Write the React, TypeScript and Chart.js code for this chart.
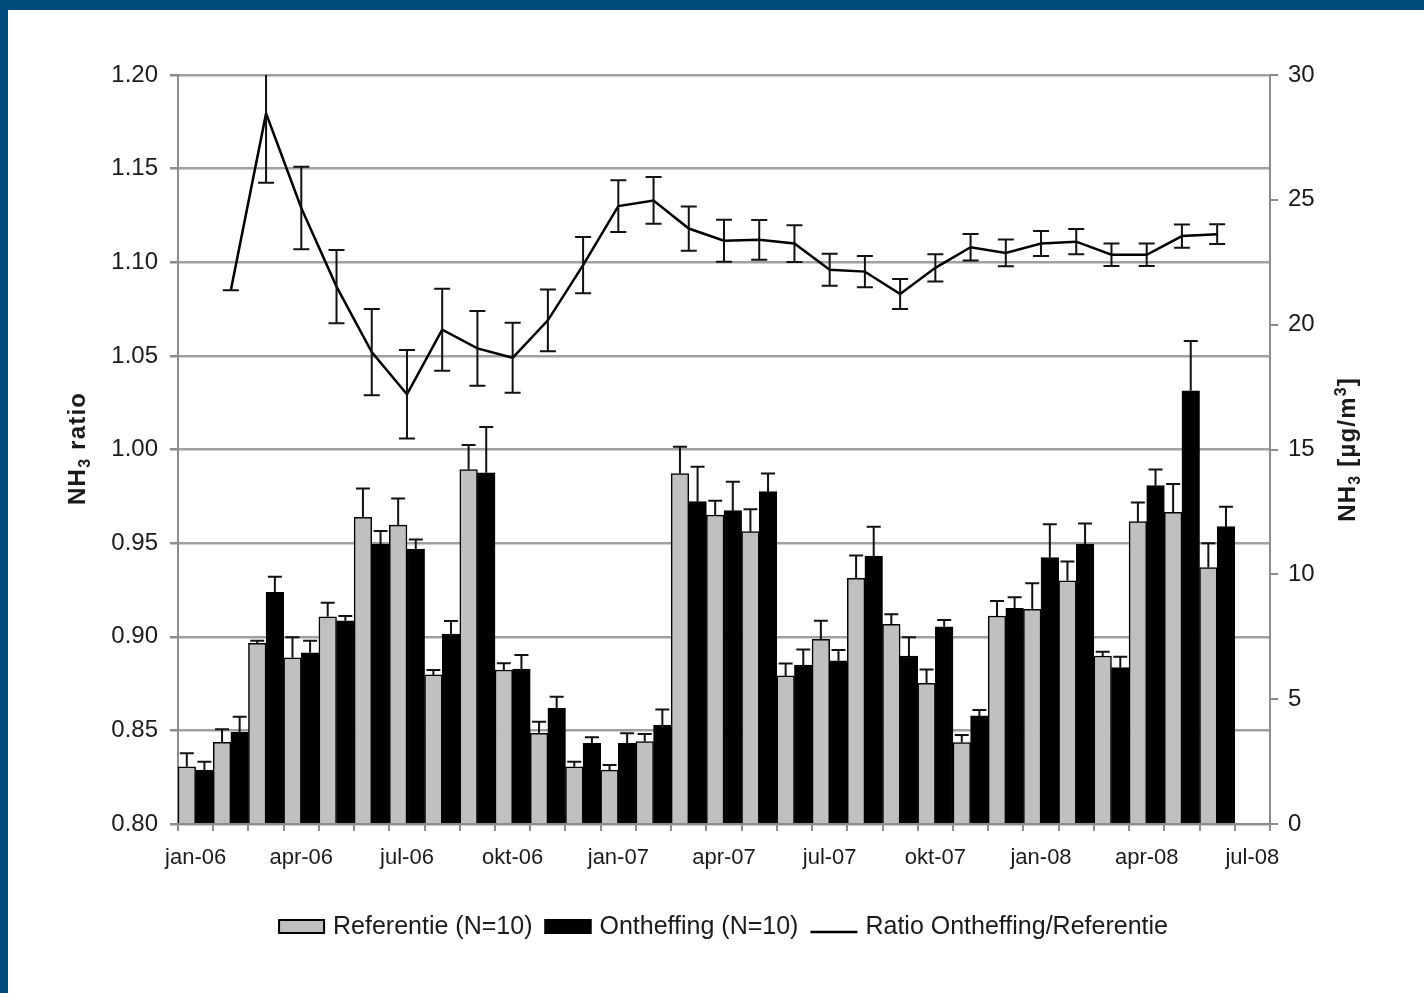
import React, { useEffect, useRef } from 'react';
import { Chart, registerables } from 'chart.js';

Chart.register(...registerables);

const FONT = "'Liberation Sans', Arial, Helvetica, sans-serif";

const months = [
  'jan-06', 'feb-06', 'mrt-06', 'apr-06', 'mei-06', 'jun-06', 'jul-06', 'aug-06', 'sep-06', 'okt-06', 'nov-06', 'dec-06',
  'jan-07', 'feb-07', 'mrt-07', 'apr-07', 'mei-07', 'jun-07', 'jul-07', 'aug-07', 'sep-07', 'okt-07', 'nov-07', 'dec-07',
  'jan-08', 'feb-08', 'mrt-08', 'apr-08', 'mei-08', 'jun-08', 'jul-08',
];

const referentie = [
  2.29, 3.27, 7.24, 6.66, 8.3, 12.28, 11.97, 5.97, 14.2, 6.17, 3.63, 2.29,
  2.16, 3.3, 14.04, 12.37, 11.71, 5.93, 7.4, 9.84, 8.0, 5.63, 3.26, 8.33,
  8.6, 9.74, 6.73, 12.11, 12.48, 10.27, null,
];
const referentieErr = [
  0.54, 0.53, 0.1, 0.82, 0.56, 1.16, 1.07, 0.2, 0.98, 0.27, 0.47, 0.2,
  0.2, 0.3, 1.07, 0.58, 0.9, 0.5, 0.74, 0.91, 0.4, 0.56, 0.3, 0.6,
  1.04, 0.77, 0.17, 0.77, 1.14, 0.97, null,
];

const ontheffing = [
  2.16, 3.67, 9.28, 6.86, 8.14, 11.21, 11.01, 7.61, 14.07, 6.21, 4.63, 3.23,
  3.23, 3.96, 12.91, 12.55, 13.31, 6.37, 6.54, 10.73, 6.73, 7.9, 4.33, 8.64,
  10.67, 11.21, 6.27, 13.55, 17.35, 11.91, null,
];
const ontheffingErr = [
  0.33, 0.63, 0.62, 0.48, 0.19, 0.53, 0.39, 0.52, 1.83, 0.56, 0.47, 0.24,
  0.4, 0.63, 1.4, 1.16, 0.73, 0.62, 0.43, 1.18, 0.75, 0.27, 0.24, 0.44,
  1.34, 0.83, 0.43, 0.65, 2.0, 0.8, null,
];

const ratio = [
  null, 1.085, 1.1795, 1.129, 1.087, 1.052, 1.0295, 1.064, 1.054, 1.049, 1.069, 1.0985,
  1.13, 1.133, 1.118, 1.1115, 1.112, 1.11, 1.096, 1.095, 1.083, 1.097, 1.108, 1.105,
  1.11, 1.111, 1.104, 1.104, 1.114, 1.115, null,
];
const ratioErr = [
  null, 0.0, 0.037, 0.022, 0.0196, 0.023, 0.0236, 0.0219, 0.02, 0.0187, 0.0165, 0.015,
  0.0138, 0.0125, 0.0118, 0.0112, 0.0106, 0.0098, 0.0085, 0.0084, 0.008, 0.0073, 0.0071, 0.0071,
  0.0067, 0.0067, 0.006, 0.006, 0.0062, 0.0053, null,
];

const leftTicks = { min: 0.8, max: 1.2, step: 0.05 };
const rightTicks = { min: 0, max: 30, step: 5 };

const leftTitle = [
  { t: 'NH', sub: 0 },
  { t: '3', sub: 1 },
  { t: ' ratio', sub: 0 },
];
const rightTitle = [
  { t: 'NH', sub: 0 },
  { t: '3', sub: 1 },
  { t: ' [\u00b5g/m', sub: 0 },
  { t: '3', sub: -1 },
  { t: ']', sub: 0 },
];

const BLUE = '#004b7d';
const GRID = '#a0a0a0';
const AXIS = '#8c8c8c';
const TEXT = '#1a1a1a';

const framePlugin = {
  id: 'frame',
  beforeDraw(chart: any) {
    const { ctx, width, height } = chart;
    ctx.save();
    ctx.fillStyle = '#ffffff';
    ctx.fillRect(0, 0, width, height);
    ctx.fillStyle = BLUE;
    ctx.fillRect(0, 0, width, 10);
    ctx.fillRect(0, 0, 8, height);
    ctx.restore();
  },
};

const errorBarPlugin = {
  id: 'errorBars',
  afterDatasetsDraw(chart: any) {
    const ctx = chart.ctx;
    const a = chart.chartArea;
    ctx.save();
    ctx.beginPath();
    ctx.rect(a.left, a.top, a.right - a.left, a.bottom - a.top);
    ctx.clip();
    chart.data.datasets.forEach((ds: any, di: number) => {
      const errs = ds.errors;
      if (!errs) return;
      const meta = chart.getDatasetMeta(di);
      const scale = chart.scales[meta.yAxisID];
      const both = ds.type === 'line';
      meta.data.forEach((el: any, i: number) => {
        const v = ds.data[i];
        const e = errs[i];
        if (v == null || e == null) return;
        const x = el.x;
        const yTop = scale.getPixelForValue(v + e);
        const yBot = both ? scale.getPixelForValue(v - e) : scale.getPixelForValue(v);
        const cap = both ? 8 : 7;
        ctx.strokeStyle = '#111';
        ctx.lineWidth = 2;
        ctx.beginPath();
        ctx.moveTo(x, yTop);
        ctx.lineTo(x, yBot);
        ctx.moveTo(x - cap, yTop);
        ctx.lineTo(x + cap, yTop);
        if (both) {
          ctx.moveTo(x - cap, yBot);
          ctx.lineTo(x + cap, yBot);
        }
        ctx.stroke();
      });
    });
    ctx.restore();
  },
};

function drawVerticalTitle(ctx: CanvasRenderingContext2D, segs: any[], cx: number, cy: number) {
  const size = 24;
  const subSize = 16;
  const spacing = 1.2;
  const chars: { c: string; font: string; dy: number; w: number }[] = [];
  segs.forEach((s) => {
    const font = `bold ${s.sub ? subSize : size}px ${FONT}`;
    const dy = s.sub === 1 ? 5 : s.sub === -1 ? -9 : 0;
    for (const c of s.t) {
      ctx.font = font;
      chars.push({ c, font, dy, w: ctx.measureText(c).width + spacing });
    }
  });
  const total = chars.reduce((acc, ch) => acc + ch.w, 0) - spacing;
  ctx.save();
  ctx.translate(cx, cy);
  ctx.rotate(-Math.PI / 2);
  ctx.fillStyle = TEXT;
  ctx.textBaseline = 'alphabetic';
  ctx.textAlign = 'left';
  let x = -total / 2;
  const base = 8.5;
  chars.forEach((ch) => {
    ctx.font = ch.font;
    ctx.fillText(ch.c, x, base + ch.dy);
    x += ch.w;
  });
  ctx.restore();
}

const decorPlugin = {
  id: 'decor',
  afterDraw(chart: any) {
    const ctx: CanvasRenderingContext2D = chart.ctx;
    drawVerticalTitle(ctx, leftTitle, 76, 449);
    drawVerticalTitle(ctx, rightTitle, 1346, 450);

    const ds = chart.data.datasets;
    const items = [
      { label: ds[1].label, kind: 'box', fill: '#c0c0c0' },
      { label: ds[2].label, kind: 'box', fill: '#000000' },
      { label: ds[0].label, kind: 'line', fill: '#000000' },
    ];
    ctx.save();
    ctx.font = `25px ${FONT}`;
    const markerW = 47;
    const gapMT = 8;
    const gapItem = 12;
    const widths = items.map((it) => ctx.measureText(it.label).width);
    const total = widths.reduce((a, w) => a + markerW + gapMT + w, 0) + gapItem * (items.length - 1);
    let x = 723 - total / 2;
    const baseline = 934;
    items.forEach((it, i) => {
      if (it.kind === 'box') {
        ctx.fillStyle = it.fill;
        ctx.fillRect(x, 919, markerW, 15);
        ctx.strokeStyle = '#000';
        ctx.lineWidth = 2;
        ctx.strokeRect(x + 1, 920, markerW - 2, 13);
      } else {
        ctx.strokeStyle = '#000';
        ctx.lineWidth = 2.5;
        ctx.beginPath();
        ctx.moveTo(x, 932);
        ctx.lineTo(x + markerW, 932);
        ctx.stroke();
      }
      x += markerW + gapMT;
      ctx.fillStyle = TEXT;
      ctx.textBaseline = 'alphabetic';
      ctx.textAlign = 'left';
      ctx.fillText(it.label, x, baseline);
      x += widths[i] + gapItem;
    });
    ctx.restore();
  },
};

export default function App() {
  const ref = useRef<HTMLCanvasElement>(null);

  useEffect(() => {
    document.body.style.margin = '0';
    const canvas = ref.current!;
    const chart = new Chart(canvas, {
      type: 'bar',
      data: {
        labels: months,
        datasets: [
          {
            type: 'line',
            label: 'Ratio Ontheffing/Referentie',
            data: ratio,
            errors: ratioErr,
            yAxisID: 'y',
            borderColor: '#000',
            borderWidth: 2.5,
            pointRadius: 0,
            tension: 0,
            fill: false,
            order: 0,
          } as any,
          {
            type: 'bar',
            label: 'Referentie (N=10)',
            data: referentie,
            errors: referentieErr,
            yAxisID: 'y1',
            backgroundColor: '#c0c0c0',
            borderColor: '#000',
            borderWidth: 1.5,
            categoryPercentage: 1,
            barPercentage: 1,
            order: 1,
          } as any,
          {
            type: 'bar',
            label: 'Ontheffing (N=10)',
            data: ontheffing,
            errors: ontheffingErr,
            yAxisID: 'y1',
            backgroundColor: '#000',
            borderColor: '#000',
            borderWidth: 1.5,
            categoryPercentage: 1,
            barPercentage: 1,
            order: 1,
          } as any,
        ],
      },
      options: {
        responsive: false,
        maintainAspectRatio: false,
        animation: false,
        layout: { padding: { top: 75, left: 0, right: 0, bottom: 0 } },
        plugins: {
          legend: { display: false },
          tooltip: { enabled: false },
          title: { display: false },
        },
        scales: {
          x: {
            type: 'category',
            offset: true,
            grid: {
              offset: true,
              drawOnChartArea: false,
              drawTicks: true,
              tickLength: 7,
              color: AXIS,
              lineWidth: 2,
            },
            border: { display: true, color: AXIS, width: 2 },
            ticks: {
              autoSkip: false,
              maxRotation: 0,
              minRotation: 0,
              padding: 14,
              color: TEXT,
              font: { family: FONT, size: 22 },
              callback: (_v: any, i: number) => (i % 3 === 0 ? months[i] : ''),
            },
            afterFit: (s: any) => {
              s.height = 993 - 824;
            },
          },
          y: {
            type: 'linear',
            position: 'left',
            min: leftTicks.min,
            max: leftTicks.max,
            grid: {
              color: GRID,
              lineWidth: 2.5,
              drawTicks: true,
              tickLength: 8,
              tickColor: AXIS,
            },
            border: { display: true, color: AXIS, width: 2 },
            ticks: {
              stepSize: leftTicks.step,
              padding: 12,
              color: TEXT,
              font: { family: FONT, size: 24 },
              callback: (v: any) => Number(v).toFixed(2),
            },
            afterFit: (s: any) => {
              s.width = 178;
            },
          },
          y1: {
            type: 'linear',
            position: 'right',
            min: rightTicks.min,
            max: rightTicks.max,
            grid: {
              drawOnChartArea: false,
              drawTicks: true,
              tickLength: 8,
              color: AXIS,
              lineWidth: 2,
            },
            border: { display: true, color: AXIS, width: 2 },
            ticks: {
              stepSize: rightTicks.step,
              padding: 10,
              color: TEXT,
              font: { family: FONT, size: 24 },
            },
            afterFit: (s: any) => {
              s.width = 1424 - 1270;
            },
          },
        },
      } as any,
      plugins: [framePlugin, errorBarPlugin, decorPlugin],
    });
    return () => chart.destroy();
  }, []);

  return (
    <canvas
      ref={ref}
      width={1424}
      height={993}
      style={{ display: 'block', width: 1424, height: 993 }}
    />
  );
}
